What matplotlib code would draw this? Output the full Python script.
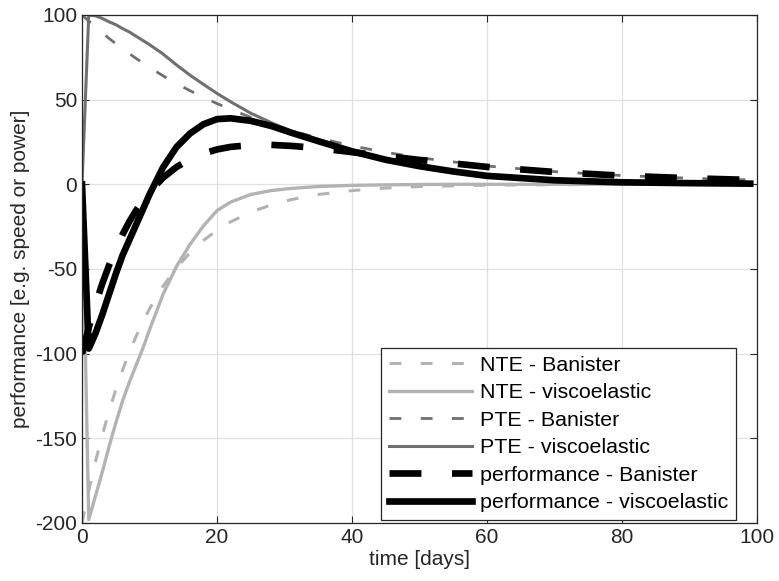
import matplotlib
matplotlib.use("Agg")
import matplotlib.pyplot as plt

plt.rcParams['font.family'] = ['Liberation Sans', 'DejaVu Sans']
plt.rcParams['font.size'] = 15
plt.rcParams['lines.scale_dashes'] = False
plt.rcParams['axes.unicode_minus'] = False

# Banister model curves
t_ban = [0, 1, 2, 3, 4, 5, 6, 7, 8, 9, 10, 12, 14, 16, 18, 20, 22, 25, 28, 31,
         35, 40, 45, 50, 60, 70, 80, 90, 99]
nte_ban = [-200, -181, -163.7, -148.2, -134.1, -121.3, -109.8, -99.3, -89.9, -81.3,
           -73.6, -60.2, -49.3, -40.4, -33.1, -27.1, -22.2, -16.4, -12.2, -9.0,
           -6.0, -3.7, -2.2, -1.3, -0.5, -0.2, -0.1, 0, 0]
pte_ban = [100, 96.4, 92.9, 89.5, 86.2, 83.1, 80.1, 77.2, 74.4, 71.7, 69.1, 64.1,
           59.5, 55.3, 51.3, 47.7, 44.3, 39.6, 35.5, 31.7, 27.4, 22.7, 18.9, 15.7,
           10.8, 7.5, 5.2, 3.6, 2.6]
perf_ban = [-100, -84.6, -70.8, -58.7, -47.9, -38.2, -29.7, -22.1, -15.5, -9.6,
            -4.5, 3.9, 10.2, 14.9, 18.2, 20.6, 22.1, 23.2, 23.3, 22.7, 21.4, 19.0,
            16.7, 14.4, 10.3, 7.3, 5.1, 3.6, 2.6]

# viscoelastic model curves
t_visc = [0, 1, 2, 3, 4, 5, 6, 7, 8, 9, 10, 12, 14, 16, 18, 20, 22, 25, 28, 31,
          35, 40, 45, 50, 55, 60, 70, 80, 90, 99]
nte_visc = [0, -198, -184, -170, -155, -141, -128, -117, -107, -97, -86, -65, -48.5,
            -35.5, -24.5, -15.5, -10.5, -6, -3.7, -2.4, -1.3, -0.6, -0.3, -0.1, 0, 0,
            0, 0, 0, 0]
pte_visc = [0, 100, 99.5, 98, 96, 94.3, 92, 90, 87.5, 85, 82.5, 77, 70.5, 64.5, 59,
            53.7, 48.8, 42, 36.5, 31.5, 26.3, 20, 14.8, 10.8, 7.6, 5.2, 2.5, 1.2,
            0.7, 0.4]
perf_visc = [0, -97, -88, -77, -65, -53, -42, -33, -24, -15, -6, 10, 22, 30, 35.5,
             38.5, 39, 37.5, 34.5, 30.5, 25.5, 19.5, 14.5, 10.7, 7.6, 5, 2.4, 1.2,
             0.7, 0.4]

fig = plt.figure(figsize=(7.79, 5.81), dpi=100)
ax = fig.add_axes([82 / 779, 58 / 581, 675 / 779, 508 / 581])

light = '#b3b3b3'
mid = '#707070'
ax.plot(t_ban, nte_ban, color=light, lw=2.2, linestyle=(0, (8.5, 14)),
        dash_capstyle='butt', label='NTE - Banister')
ax.plot(t_visc, nte_visc, color=light, lw=2.4, label='NTE - viscoelastic')
ax.plot(t_ban, pte_ban, color=mid, lw=2.0, linestyle=(0, (8.5, 14)),
        dash_capstyle='butt', label='PTE - Banister')
ax.plot(t_visc, pte_visc, color=mid, lw=2.2, label='PTE - viscoelastic')
ax.plot(t_ban, perf_ban, color='black', lw=4.8, linestyle=(0, (23, 22)),
        dash_capstyle='butt', label='performance - Banister')
ax.plot(t_visc, perf_visc, color='black', lw=4.8, label='performance - viscoelastic')

ax.set_xlim(0, 100)
ax.set_ylim(-200, 100)
ax.set_xticks([0, 20, 40, 60, 80, 100])
ax.set_yticks([-200, -150, -100, -50, 0, 50, 100])
ax.grid(True, color='#e0e0e0', lw=0.9)
ax.set_axisbelow(True)
ax.tick_params(direction='in', top=True, right=True, length=5, width=0.8,
               color='#262626', labelcolor='#262626')
for s in ax.spines.values():
    s.set_color('#262626')
    s.set_linewidth(0.9)

ax.set_xlabel('time [days]', color='#262626', labelpad=2)
ax.set_ylabel('performance [e.g. speed or power]', color='#262626', labelpad=4)

leg = ax.legend(loc='lower right', bbox_to_anchor=(0.969, 0.006), borderaxespad=0,
                fancybox=False, framealpha=1, edgecolor='#262626',
                handlelength=3.9, handletextpad=0.38, labelspacing=0.40,
                borderpad=0.35, fontsize=15.4)
leg.get_frame().set_linewidth(0.9)

fig.savefig('out.png', dpi=100)
